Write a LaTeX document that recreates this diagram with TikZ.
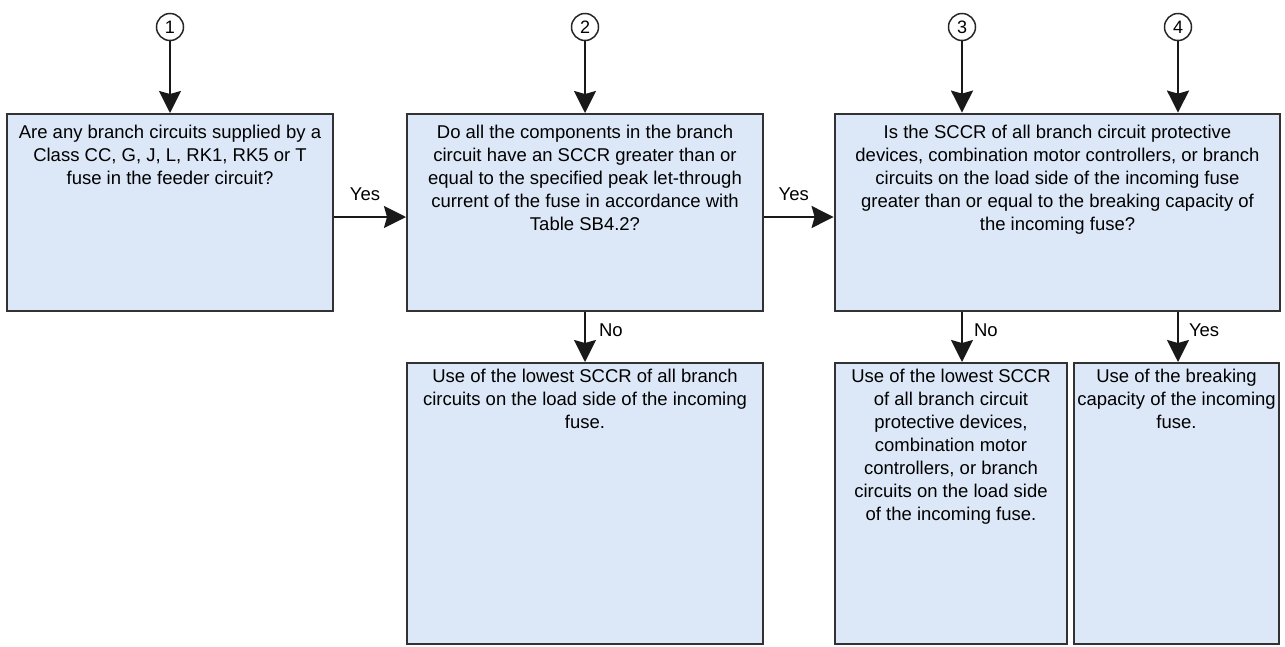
\documentclass[tikz,border=0pt]{standalone}
\usepackage{fontspec}
\setmainfont{Liberation Sans}
\usetikzlibrary{arrows.meta,positioning}
\definecolor{boxfill}{RGB}{220,232,247}
\definecolor{boxline}{RGB}{50,50,50}

\begin{document}
\begin{tikzpicture}[x=1pt,y=-1pt,
		box/.style={draw=boxline,fill=boxfill,line width=2pt,rectangle,inner sep=0pt},
		txt/.style={align=center,inner sep=0pt,font={\fontsize{18.5}{23}\selectfont}},
		num/.style={draw=black!85,circle,line width=1.5pt,minimum size=27pt,inner sep=0pt,font={\fontsize{18}{18}\selectfont}},
		flow/.style={line width=2pt,draw=black!90,-{Stealth[length=22pt,width=22pt,inset=3pt]}},
		lbl/.style={inner sep=0pt,font={\fontsize{18.5}{23}\selectfont}}]
				\useasboundingbox (0,0) rectangle (1285,646);
				
				\node[num] (n1) at (170, 27) {1};
				\node[num] (n2) at (585, 27) {2};
				\node[num] (n3) at (962, 27) {3};
				\node[num] (n4) at (1178, 27) {4};
				
				\node[box, minimum width=326pt, minimum height=197pt] (q1) at (170, 212.5) {};
				\node[box, minimum width=356pt, minimum height=197pt] (q2) at (585, 212.5) {};
				\node[box, line width=2.8pt, minimum width=445pt, minimum height=197pt] (q3) at (1057.5, 212.5) {};
				
				\node[box, minimum width=356pt, minimum height=281pt] (r1) at (585, 503.5) {};
				\node[box, minimum width=232pt, minimum height=281pt] (r2) at (951, 503.5) {};
				\node[box, minimum width=205pt, minimum height=281pt] (r3) at (1176.5, 503.5) {};
				
				\node[txt, below=12pt of q1.north] (tq1) {Are any branch circuits supplied by a\\Class CC, G, J, L, RK1, RK5 or T\\fuse in the feeder circuit?};
				\node[txt, below=12pt of q2.north] (tq2) {Do all the components in the branch\\circuit have an SCCR greater than or\\equal to the specified peak let-through\\current of the fuse in accordance with\\Table SB4.2?};
				\node[txt, below=12pt of q3.north] (tq3) {Is the SCCR of all branch circuit protective\\devices, combination motor controllers, or branch\\circuits on the load side of the incoming fuse\\greater than or equal to the breaking capacity of\\the incoming fuse?};
				
				\node[txt, below=6.5pt of r1.north] (tr1) {Use of the lowest SCCR of all branch\\circuits on the load side of the incoming\\fuse.};
				\node[txt, below=6.5pt of r2.north] (tr2) {Use of the lowest SCCR\\of all branch circuit\\protective devices,\\combination motor\\controllers, or branch\\circuits on the load side\\of the incoming fuse.};
				\node[txt, below=6.5pt of r3.north] (tr3) {Use of the breaking\\capacity of the incoming\\fuse.};
				
				\draw[flow] (n1) -- (q1.north);
				\draw[flow] (n2) -- (q2.north);
				\draw[flow] (n3) -- (n3 |- q3.north);
				\draw[flow] (n4) -- (n4 |- q3.north);
				
				\draw[flow] ([yshift=-4.5pt]q1.east) -- node[lbl, above=15pt, xshift=-5pt] (y1) {Yes} ([yshift=-4.5pt]q2.west);
				\draw[flow] ([yshift=-4.5pt]q2.east) -- node[lbl, above=15pt, xshift=-5pt] (y2) {Yes} ([yshift=-4.5pt]q3.west);
				
				\draw[flow] (q2.south) -- node[lbl, right=13pt, yshift=7pt] (m1) {No} (r1.north);
				\draw[flow] (q3.south -| n3) -- node[lbl, right=11pt, yshift=7pt] (m2) {No} (r2.north -| n3);
				\draw[flow] (q3.south -| n4) -- node[lbl, right=10pt, yshift=7pt] (y3) {Yes} (r3.north -| n4);
			\end{tikzpicture}
\end{document}
